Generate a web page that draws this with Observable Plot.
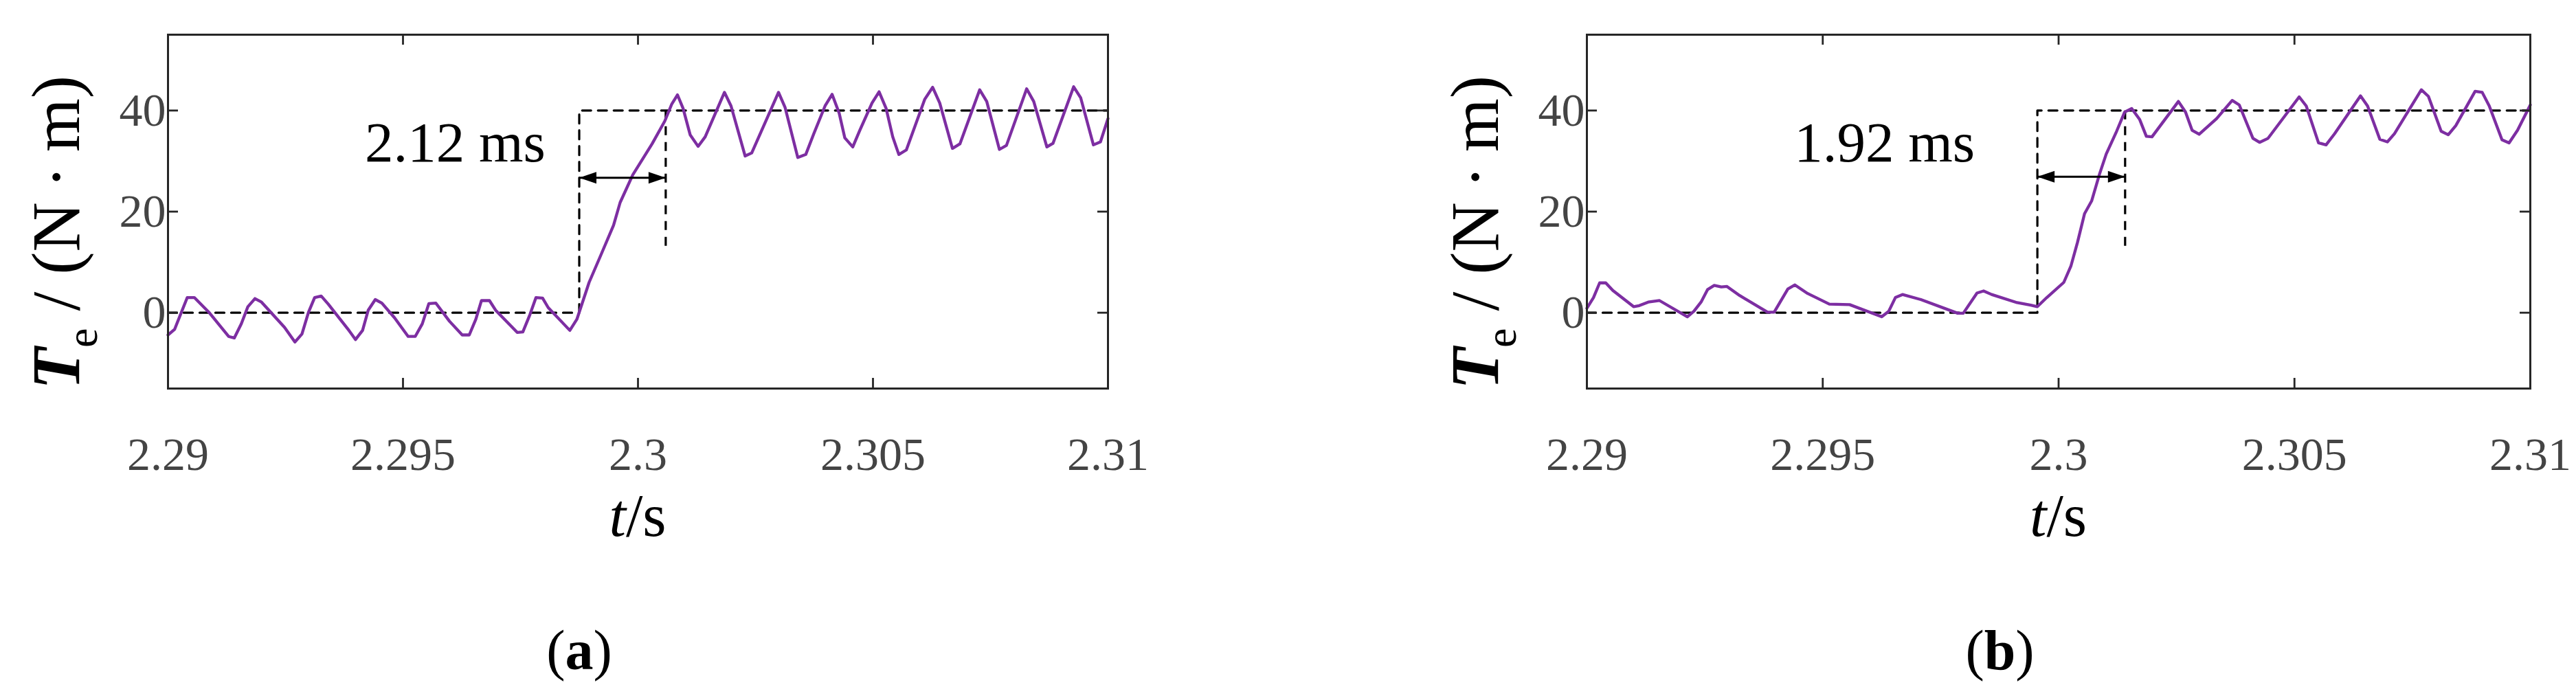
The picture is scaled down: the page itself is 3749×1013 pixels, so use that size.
<!DOCTYPE html>
<html><head><meta charset="utf-8">
<script src="https://cdn.jsdelivr.net/npm/d3@7"></script>
<script src="https://cdn.jsdelivr.net/npm/@observablehq/plot@0.6"></script>
<style>
html,body{margin:0;padding:0;background:#fff;}
body{width:3749px;height:1013px;overflow:hidden;position:relative;}
.panel{position:absolute;top:0;}
</style></head><body>
<div id="pa" class="panel" style="left:0px"></div>
<div id="pb" class="panel" style="left:1875px"></div>
<script>
// ---------- axis ticks ----------
const xTicks = [2.29, 2.295, 2.3, 2.305, 2.31];
const xTickLabels = ["2.29", "2.295", "2.3", "2.305", "2.31"];
const yTicks = [0, 20, 40];
const yTickLabels = ["0", "20", "40"];

// ---------- panel (a) torque ----------
const timeA = [
 2.29000,2.29014,2.29041,2.29056,2.29087,2.29129,2.29141,2.29156,2.29170,2.29185,
 2.29199,2.29248,2.29270,2.29285,2.29299,2.29312,2.29326,2.29341,2.29368,2.29385,
 2.29399,2.29414,2.29426,2.29441,2.29455,2.29482,2.29511,2.29526,2.29541,2.29555,
 2.29570,2.29599,2.29626,2.29641,2.29655,2.29667,2.29684,2.29697,2.29743,2.29755,
 2.29770,2.29783,2.29797,2.29809,2.29855,2.29870,2.29896,2.29921,2.29948,2.29962,
 2.29989,2.30030,2.30057,2.30072,2.30084,2.30096,2.30111,2.30128,2.30143,2.30184,
 2.30198,2.30228,2.30242,2.30299,2.30313,2.30340,2.30357,2.30374,2.30398,2.30413,
 2.30428,2.30440,2.30457,2.30472,2.30498,2.30513,2.30528,2.30542,2.30555,2.30571,
 2.30610,2.30627,2.30642,2.30669,2.30685,2.30727,2.30742,2.30769,2.30784,2.30827,
 2.30842,2.30870,2.30883,2.30927,2.30942,2.30969,2.30984,2.31000];
const torqueA = [
 -4.4,-3.3,3.0,3.0,0.1,-4.7,-5.0,-2.2,1.2,2.8,
 2.1,-2.9,-5.8,-4.2,0.1,3.0,3.3,1.7,-1.5,-3.5,
 -5.3,-3.5,0.5,2.6,1.9,-1.0,-4.7,-4.7,-2.2,1.8,
 1.9,-1.7,-4.4,-4.4,-1.3,2.4,2.4,0.5,-3.9,-3.8,
 -0.4,3.0,2.9,1.0,-3.5,-1.3,6.0,11.4,17.3,21.8,
 27.3,33.4,37.9,41.3,43.1,40.4,35.2,32.9,34.8,43.6,
 40.9,31.0,31.6,43.6,40.6,30.7,31.3,35.4,40.9,43.2,
 39.5,34.6,32.8,36.1,41.5,43.7,40.4,34.8,31.3,32.2,
 42.2,44.6,41.5,32.5,33.4,44.1,41.8,32.3,33.1,44.3,
 41.8,32.8,33.5,44.7,42.5,33.2,33.8,38.4];

// ---------- panel (b) torque ----------
const timeB = [
 2.29000,2.29014,2.29027,2.29040,2.29055,2.29099,2.29111,2.29130,2.29154,2.29213,
 2.29227,2.29242,2.29256,2.29270,2.29285,2.29297,2.29324,2.29383,2.29397,2.29426,
 2.29441,2.29468,2.29514,2.29557,2.29625,2.29640,2.29654,2.29669,2.29708,2.29786,
 2.29798,2.29827,2.29841,2.29858,2.29912,2.29941,2.29955,2.29975,2.30011,2.30026,
 2.30040,2.30055,2.30070,2.30087,2.30101,2.30123,2.30140,2.30155,2.30172,2.30186,
 2.30198,2.30254,2.30269,2.30283,2.30298,2.30335,2.30368,2.30383,2.30412,2.30426,
 2.30444,2.30510,2.30525,2.30551,2.30567,2.30585,2.30640,2.30655,2.30681,2.30697,
 2.30712,2.30769,2.30784,2.30811,2.30826,2.30842,2.30883,2.30898,2.30913,2.30940,
 2.30955,2.30973,2.31000];
const torqueB = [
 0.9,3.0,5.9,5.9,4.4,1.2,1.4,2.1,2.4,-0.8,
 0.3,2.1,4.6,5.4,5.1,5.2,3.4,0.1,0.1,4.7,
 5.5,3.8,1.7,1.6,-0.8,0.3,3.0,3.6,2.6,-0.1,
 -0.1,3.9,4.3,3.6,2.0,1.5,1.2,3.0,6.0,9.2,
 13.9,19.6,22.1,27.5,31.4,35.9,39.7,40.4,38.2,34.9,
 34.8,41.8,39.7,36.1,35.3,38.4,42.0,41.1,34.5,33.7,
 34.5,42.7,40.9,33.6,33.2,35.4,42.9,40.9,34.3,33.8,
 35.4,44.1,42.8,35.9,35.2,37.0,43.8,43.6,40.9,34.2,
 33.6,36.1,41.1];

// ---------- reference step (dashed) and response-time markers ----------
const stepTimeA = [2.29, 2.29875, 2.29875, 2.31];
const stepTimeB = [2.29, 2.29955, 2.29955, 2.31];
const stepValue = [0, 0, 40, 40];
const reachTime = [2.30059, 2.30141];      // (a), (b) second dashed marker
const reachMarkerLow = [12.4, 13.0];        // bottom of second dashed marker
const arrowLevel = [26.7, 26.9];            // double arrow height
const delayLabels = ["2.12 ms", "1.92 ms"];
const delayLabelTime = [2.29611, 2.29631];
const delayLabelValue = [33.6, 33.6];
const panelTags = ["a", "b"];

const FONT = '"Liberation Serif","Times New Roman",serif';
const PURPLE = "#7d2ea2";
const AXIS = "#262626";

const headRight = {draw(ctx){ctx.moveTo(0,0);ctx.lineTo(-25,-8.5);ctx.lineTo(-25,8.5);ctx.closePath();}};
const headLeft  = {draw(ctx){ctx.moveTo(0,0);ctx.lineTo(25,-8.5);ctx.lineTo(25,8.5);ctx.closePath();}};

function makePanel(k, times, values, stepTimes, ml, mr) {
  const W = 1874, H = 1013, mt = 50, mb = 448;
  const FW = W - ml - mr, FH = H - mt - mb;
  const series = times.map((t, i) => ({t, v: values[i]}));
  const step = stepTimes.map((t, i) => ({t, v: stepValue[i]}));
  const startT = stepTimes[1];
  const svg = Plot.plot({
    width: W, height: H,
    marginLeft: ml, marginRight: mr, marginTop: mt, marginBottom: mb,
    x: {domain: [2.29, 2.31]},
    y: {domain: [-15, 55]},
    style: {fontFamily: FONT, background: "transparent", overflow: "visible"},
    marks: [
      Plot.line(step, {x: "t", y: "v", stroke: "black", strokeWidth: 3.2, strokeDasharray: "13,10"}),
      Plot.link([{t: reachTime[k], lo: reachMarkerLow[k], hi: 40}], {x1: "t", x2: "t", y1: "hi", y2: "lo", stroke: "black", strokeWidth: 3.2, strokeDasharray: "13,10"}),
      Plot.line(series, {x: "t", y: "v", stroke: PURPLE, strokeWidth: 4.3, strokeLinejoin: "round"}),
      Plot.link([{a: startT, b: reachTime[k], y: arrowLevel[k]}], {x1: "a", x2: "b", y1: "y", y2: "y", stroke: "black", strokeWidth: 3}),
      Plot.dot([{t: startT, y: arrowLevel[k]}], {x: "t", y: "y", symbol: headLeft, fill: "black", stroke: "none", r: 5}),
      Plot.dot([{t: reachTime[k], y: arrowLevel[k]}], {x: "t", y: "y", symbol: headRight, fill: "black", stroke: "none", r: 5}),
      Plot.text([{t: delayLabelTime[k], v: delayLabelValue[k], s: delayLabels[k]}], {x: "t", y: "v", text: "s", fontSize: 83, fill: "black", textAnchor: "middle"}),
      Plot.frame({stroke: AXIS, strokeWidth: 3}),
      Plot.tickX(xTicks, {x: d => d, insetBottom: FH - 15, stroke: AXIS, strokeWidth: 2.8}),
      Plot.tickX(xTicks, {x: d => d, insetTop: FH - 15, stroke: AXIS, strokeWidth: 2.8}),
      Plot.tickY(yTicks, {y: d => d, insetRight: FW - 15, stroke: AXIS, strokeWidth: 2.8}),
      Plot.tickY(yTicks, {y: d => d, insetLeft: FW - 15, stroke: AXIS, strokeWidth: 2.8}),
      Plot.axisX(xTicks, {tickSize: 0, tickPadding: 70, fontSize: 68, fill: "#444", label: null,
        tickFormat: d => xTickLabels[xTicks.indexOf(d)]}),
      Plot.axisY(yTicks, {tickSize: 0, tickPadding: 3, fontSize: 68, fill: "#444", label: null,
        tickFormat: d => yTickLabels[yTicks.indexOf(d)]})
    ]
  });
  const s = d3.select(svg);
  // y-axis label  T_e / (N·m)
  const yl = s.append("text")
    .attr("transform", `translate(${ml - 129},${mt + FH / 2 + 31}) rotate(-90)`)
    .attr("text-anchor", "middle").attr("font-family", FONT).attr("font-size", 100).attr("fill", "black");
  yl.append("tspan").attr("font-style", "italic").attr("font-weight", "bold").text("T");
  yl.append("tspan").attr("font-size", 64).attr("dy", 26).text("e");
  yl.append("tspan").attr("dy", -26).text(" / (N\u2009·\u2009m)");
  // x-axis label  t/s
  const xl = s.append("text")
    .attr("x", ml + FW / 2).attr("y", 780)
    .attr("text-anchor", "middle").attr("font-family", FONT).attr("font-size", 88).attr("fill", "black");
  xl.append("tspan").attr("font-style", "italic").text("t");
  xl.append("tspan").text("/s");
  // panel tag (a)/(b)
  const cap = s.append("text")
    .attr("x", ml + FW / 2 - 85).attr("y", 974)
    .attr("text-anchor", "middle").attr("font-family", FONT).attr("font-size", 82).attr("fill", "black");
  cap.append("tspan").text("(");
  cap.append("tspan").attr("font-weight", "bold").text(panelTags[k]);
  cap.append("tspan").text(")");
  return svg;
}

document.getElementById("pa").appendChild(makePanel(0, timeA, torqueA, stepTimeA, 244, 262));
document.getElementById("pb").appendChild(makePanel(1, timeB, torqueB, stepTimeB, 434, 67));
</script>
</body></html>
